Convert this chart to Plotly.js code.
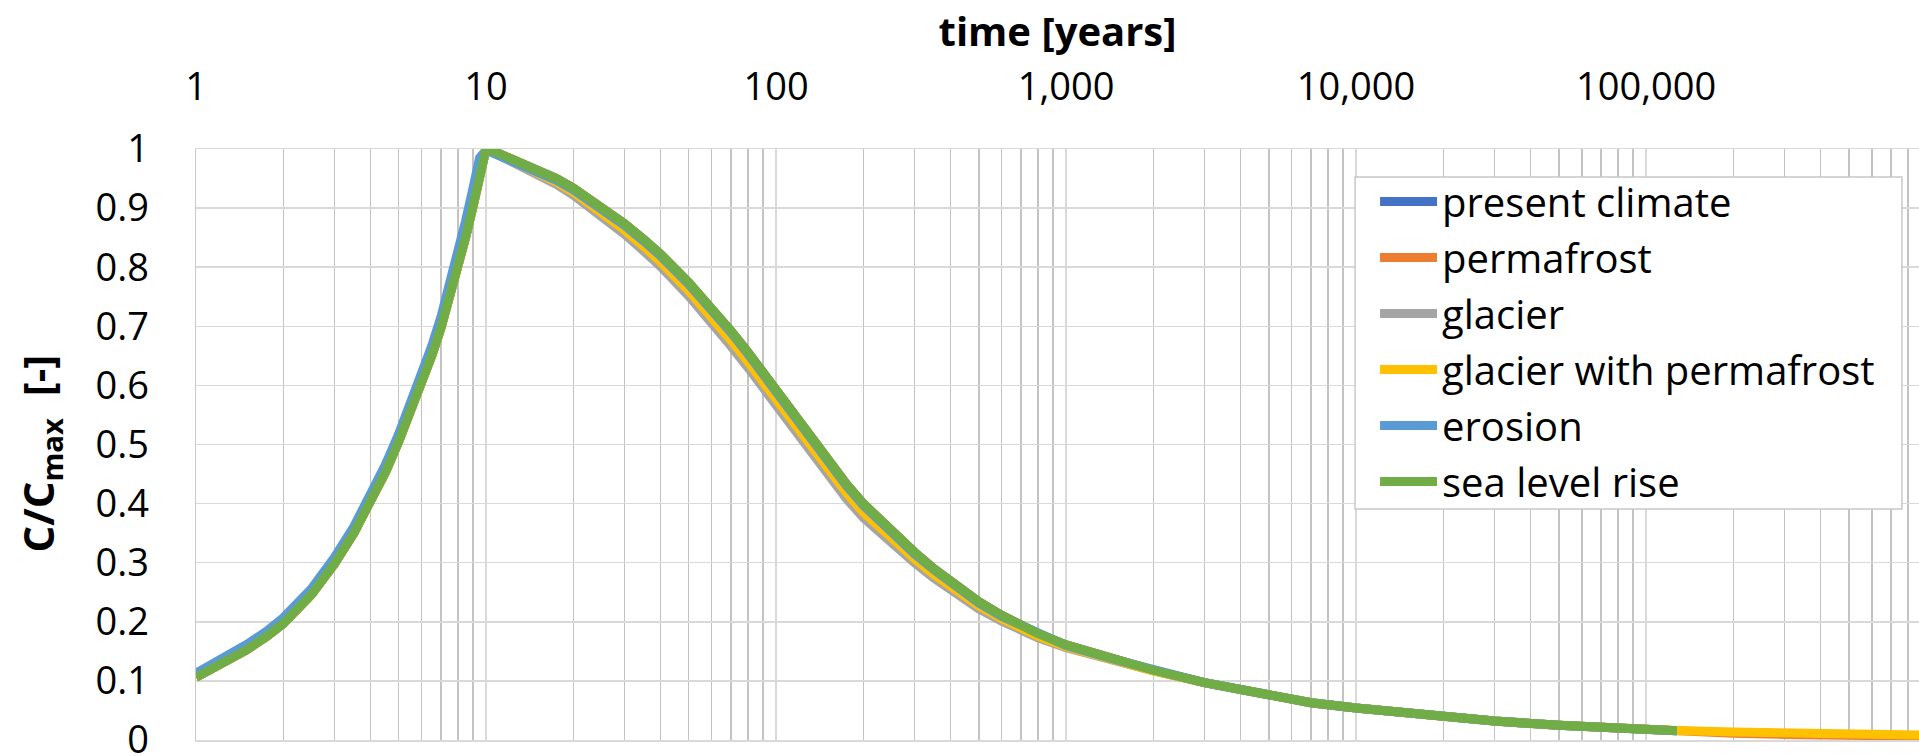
<!DOCTYPE html>
<html>
<head>
<meta charset="utf-8">
<script src="https://cdn.plot.ly/plotly-3.0.1.min.js"></script>
<style>
  html, body { margin: 0; padding: 0; background: #ffffff; overflow: hidden; }
  #chart { width: 1919px; height: 756px; }
</style>
</head>
<body>
<div id="chart"></div>
<script>
// ---- data ----
const seriesNames = ["present climate", "permafrost", "glacier", "glacier with permafrost", "erosion", "sea level rise"];
const seriesColors = ["#4472C4", "#ED7D31", "#A5A5A5", "#FFC000", "#5B9BD5", "#70AD47"];

const time = [1, 1.25, 1.5, 1.75, 2, 2.5, 3, 3.5, 4, 4.5, 5, 5.5, 6, 6.5, 7, 7.5, 8, 8.5, 9, 9.5, 10,
  11, 12.5, 15, 17.5, 20, 25, 30, 35, 40, 50, 60, 70, 80, 90, 100,
  125, 150, 175, 200, 250, 300, 350, 400, 500, 600, 700, 800, 1000, 1500, 2000,
  3000, 4000, 5000, 7000, 10000, 15000, 20000, 30000, 50000, 70000, 100000, 127600];
const timeTail = [200000, 300000, 500000, 1000000];

const presentClimate = [0.106, 0.130, 0.153, 0.175, 0.197, 0.246, 0.298, 0.350, 0.402, 0.453, 0.505, 0.556, 0.604, 0.650, 0.698, 0.748, 0.799, 0.850, 0.901, 0.951, 1.000,
  0.993, 0.982, 0.966, 0.950, 0.934, 0.903, 0.874, 0.847, 0.822, 0.774, 0.731, 0.692, 0.656, 0.623, 0.592,
  0.527, 0.474, 0.433, 0.400, 0.353, 0.318, 0.290, 0.268, 0.234, 0.211, 0.194, 0.180, 0.161, 0.135, 0.118,
  0.097, 0.0855, 0.075, 0.063, 0.054, 0.045, 0.039, 0.032, 0.025, 0.021, 0.018, 0.0158];

const permafrost = [0.106, 0.130, 0.153, 0.175, 0.197, 0.246, 0.298, 0.350, 0.402, 0.453, 0.505, 0.556, 0.604, 0.650, 0.698, 0.748, 0.799, 0.850, 0.901, 0.951, 1.000,
  0.993, 0.982, 0.966, 0.950, 0.934, 0.903, 0.874, 0.847, 0.822, 0.774, 0.731, 0.692, 0.656, 0.623, 0.592,
  0.527, 0.474, 0.433, 0.400, 0.353, 0.318, 0.290, 0.268, 0.234, 0.211, 0.194, 0.180, 0.161, 0.135, 0.118,
  0.097, 0.0855, 0.075, 0.063, 0.054, 0.045, 0.039, 0.032, 0.025, 0.021, 0.018, 0.0150];
const permafrostTail = [0.0115, 0.0095, 0.0077, 0.0060];

const glacier = [0.106, 0.130, 0.153, 0.175, 0.197, 0.246, 0.298, 0.350, 0.402, 0.453, 0.505, 0.556, 0.604, 0.650, 0.698, 0.748, 0.799, 0.850, 0.901, 0.951, 1.000,
  0.990, 0.977, 0.958, 0.940, 0.922, 0.888, 0.856, 0.827, 0.801, 0.751, 0.707, 0.666, 0.630, 0.597, 0.566,
  0.501, 0.448, 0.408, 0.376, 0.332, 0.300, 0.274, 0.254, 0.222, 0.201, 0.186, 0.173, 0.156, 0.132, 0.117,
  0.097, 0.0855, 0.075, 0.063, 0.054, 0.045, 0.039, 0.032, 0.025, 0.021, 0.018, 0.0158];

const glacierPermafrost = [0.106, 0.130, 0.153, 0.175, 0.197, 0.246, 0.298, 0.350, 0.402, 0.453, 0.505, 0.556, 0.604, 0.650, 0.698, 0.748, 0.799, 0.850, 0.901, 0.951, 1.000,
  0.991, 0.979, 0.961, 0.944, 0.927, 0.894, 0.863, 0.835, 0.809, 0.760, 0.716, 0.676, 0.640, 0.607, 0.576,
  0.511, 0.458, 0.418, 0.385, 0.340, 0.307, 0.280, 0.259, 0.227, 0.205, 0.189, 0.176, 0.158, 0.133, 0.117,
  0.097, 0.0855, 0.075, 0.063, 0.054, 0.045, 0.039, 0.032, 0.025, 0.021, 0.018, 0.0160];
const glacierPermafrostTail = [0.0135, 0.0115, 0.0097, 0.0080];

const erosion = [0.113, 0.138, 0.162, 0.184, 0.207, 0.256, 0.309, 0.361, 0.414, 0.466, 0.518, 0.570, 0.618, 0.667, 0.717, 0.770, 0.825, 0.878, 0.932, 0.985, 0.998,
  0.990, 0.979, 0.963, 0.947, 0.931, 0.900, 0.871, 0.844, 0.819, 0.771, 0.728, 0.689, 0.653, 0.620, 0.589,
  0.524, 0.471, 0.430, 0.397, 0.350, 0.315, 0.288, 0.266, 0.232, 0.209, 0.193, 0.179, 0.160, 0.135, 0.118,
  0.097, 0.0855, 0.075, 0.063, 0.054, 0.045, 0.039, 0.032, 0.025, 0.021, 0.018, 0.0158];

const seaLevelRise = [0.106, 0.130, 0.153, 0.175, 0.197, 0.246, 0.298, 0.350, 0.402, 0.453, 0.505, 0.556, 0.604, 0.650, 0.698, 0.748, 0.799, 0.850, 0.901, 0.951, 1.000,
  0.993, 0.982, 0.966, 0.950, 0.934, 0.903, 0.874, 0.847, 0.822, 0.774, 0.731, 0.692, 0.656, 0.623, 0.592,
  0.527, 0.474, 0.433, 0.400, 0.353, 0.318, 0.290, 0.268, 0.234, 0.211, 0.194, 0.180, 0.161, 0.135, 0.118,
  0.097, 0.0855, 0.075, 0.063, 0.054, 0.045, 0.039, 0.032, 0.025, 0.021, 0.018, 0.0158];

const xTickVals = [1, 10, 100, 1000, 10000, 100000];
const xTickText = ["1", "10", "100", "1,000", "10,000", "100,000"];
const yTickVals = [0, 0.1, 0.2, 0.3, 0.4, 0.5, 0.6, 0.7, 0.8, 0.9, 1];
const yTickText = ["0", "0.1", "0.2", "0.3", "0.4", "0.5", "0.6", "0.7", "0.8", "0.9", "1"];

const xTitle = "<b>time [years]</b>";
const yTitle = "<b>C/C<sub>max</sub>\u00a0\u00a0[-]</b>";

// ---- traces ----
const xs = [time, time.concat(timeTail), time, time.concat(timeTail), time, time];
const ys = [presentClimate, permafrost.concat(permafrostTail), glacier,
  glacierPermafrost.concat(glacierPermafrostTail), erosion, seaLevelRise];

const traces = seriesNames.map((name, i) => ({
  type: "scatter",
  mode: "lines",
  name: name,
  x: xs[i],
  y: ys[i],
  legendgroup: "g" + i,
  line: { color: seriesColors[i], width: 9, shape: "linear" },
  hoverinfo: "x+y+name"
}));

// minor grid positions (2..9 per decade)
const minorVals = [];
for (let d = 0; d < 6; d++) {
  for (let k = 2; k <= 9; k++) minorVals.push(k * Math.pow(10, d));
}

const FONT = "'Open Sans', 'Noto Sans', 'DejaVu Sans', sans-serif";

const layout = {
  width: 1919,
  height: 756,
  margin: { l: 196, r: 0, t: 149, b: 16, pad: 0 },
  paper_bgcolor: "#ffffff",
  plot_bgcolor: "#ffffff",
  font: { family: FONT, color: "#000000", size: 38 },
  showlegend: true,
  legend: {
    x: 0.6843, xanchor: "left",
    y: 0.966, yanchor: "top",
    bgcolor: "rgba(0,0,0,0)",
    borderwidth: 0,
    font: { family: FONT, size: 40, color: "#000000" },
    tracegroupgap: 1,
    itemwidth: 57,
    traceorder: "grouped"
  },
  shapes: [{
    type: "rect", xref: "paper", yref: "paper",
    x0: 0.6727, x1: 0.9901, y0: 0.3909, y1: 0.9526,
    fillcolor: "#ffffff",
    line: { color: "#c8c8c8", width: 1.5 },
    layer: "above"
  }],
  annotations: [{
    text: yTitle,
    xref: "paper", yref: "paper",
    x: -0.0905, y: 0.485,
    xanchor: "center", yanchor: "middle",
    textangle: -90,
    showarrow: false,
    font: { family: FONT, size: 42, color: "#000000" }
  }],
  xaxis: {
    type: "log",
    side: "top",
    range: [0, 5.941],
    tickmode: "array",
    tickvals: xTickVals,
    ticktext: xTickText,
    ticks: "",
    ticklabelstandoff: 32,
    ticklabeloverflow: "allow",
    tickfont: { family: FONT, size: 38, color: "#000000" },
    showgrid: true,
    gridcolor: "#d9d9d9",
    gridwidth: 1.5,
    minor: { tickvals: minorVals, showgrid: true, gridcolor: "#c3c3c3", gridwidth: 1.5, ticks: "" },
    showline: true,
    mirror: true,
    linecolor: "#d9d9d9",
    linewidth: 1.5,
    zeroline: false,
    automargin: false,
    title: { text: xTitle, font: { family: FONT, size: 40, color: "#000000" }, standoff: 0 }
  },
  yaxis: {
    range: [0, 1],
    tickmode: "array",
    tickvals: yTickVals,
    ticktext: yTickText,
    ticks: "",
    ticklabelstandoff: 38,
    ticklabeloverflow: "allow",
    tickfont: { family: FONT, size: 38, color: "#000000" },
    showgrid: true,
    gridcolor: "#d9d9d9",
    gridwidth: 1.5,
    zeroline: false,
    showline: true,
    mirror: false,
    linecolor: "#c8c8c8",
    linewidth: 1.5,
    automargin: false
  }
};

Plotly.newPlot("chart", traces, layout, { displayModeBar: false, responsive: false, staticPlot: true });
</script>
</body>
</html>
